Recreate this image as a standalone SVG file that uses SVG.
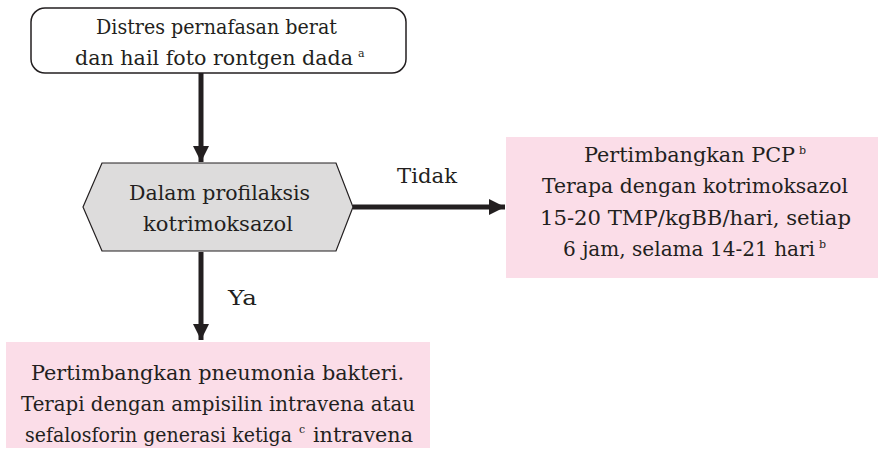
<svg xmlns="http://www.w3.org/2000/svg" width="881" height="449" viewBox="0 0 881 449">
  <style>
    text { font-family: 'DejaVu Serif', 'Liberation Serif', serif; font-size: 20px; fill: #231f20; }
    .sup { font-size: 11px; }
    .edge { stroke: #231f20; stroke-width: 5; fill: none; }
    .start { fill: #ffffff; stroke: #231f20; stroke-width: 1.5; }
    .decision { fill: #dddcdc; stroke: #231f20; stroke-width: 1.2; }
    .action { fill: #fbdde8; stroke: none; }
  </style>
  <defs>
    <marker id="arrow" viewBox="0 0 10 10" refX="10" refY="5" markerWidth="3.2" markerHeight="3.2" orient="auto" markerUnits="strokeWidth">
      <path d="M0,0 L10,5 L0,10 z" fill="#231f20"/>
    </marker>
  </defs>

  <!-- connectors and branch labels -->
  <g id="connectors">
    <line class="edge" x1="201" y1="73" x2="201" y2="162" marker-end="url(#arrow)"/>
    <line class="edge" x1="353" y1="207" x2="505" y2="207" marker-end="url(#arrow)"/>
    <line class="edge" x1="201" y1="252" x2="201" y2="340" marker-end="url(#arrow)"/>
    <text x="397" y="183" textLength="60" lengthAdjust="spacingAndGlyphs">Tidak</text>
    <text x="228" y="305" textLength="29" lengthAdjust="spacingAndGlyphs">Ya</text>
  </g>

  <!-- start: respiratory distress -->
  <g id="node-start">
    <rect class="start" x="31" y="8" width="375" height="65" rx="14" ry="14"/>
    <text x="96" y="34" textLength="241" lengthAdjust="spacingAndGlyphs">Distres pernafasan berat</text>
    <text x="75" y="65" textLength="278" lengthAdjust="spacingAndGlyphs">dan hail foto rontgen dada</text>
    <text class="sup" x="358" y="57">a</text>
  </g>

  <!-- decision: on cotrimoxazole prophylaxis -->
  <g id="node-decision">
    <polygon class="decision" points="102,163 336,163 353,207 336,251 102,251 83,207"/>
    <text x="129" y="200" textLength="181" lengthAdjust="spacingAndGlyphs">Dalam profilaksis</text>
    <text x="143" y="231" textLength="150" lengthAdjust="spacingAndGlyphs">kotrimoksazol</text>
  </g>

  <!-- outcome: consider PCP -->
  <g id="node-pcp">
    <rect class="action" x="506" y="137" width="372" height="141"/>
    <text x="584" y="162" textLength="211" lengthAdjust="spacingAndGlyphs">Pertimbangkan PCP</text>
    <text class="sup" x="799" y="154">b</text>
    <text x="542" y="193" textLength="306" lengthAdjust="spacingAndGlyphs">Terapa dengan kotrimoksazol</text>
    <text x="540" y="225" textLength="311" lengthAdjust="spacingAndGlyphs">15-20 TMP/kgBB/hari, setiap</text>
    <text x="563" y="256" textLength="252" lengthAdjust="spacingAndGlyphs">6 jam, selama 14-21 hari</text>
    <text class="sup" x="819" y="248">b</text>
  </g>

  <!-- outcome: consider bacterial pneumonia -->
  <g id="node-bacterial">
    <rect class="action" x="6" y="342" width="424" height="106"/>
    <text x="31" y="380" textLength="373" lengthAdjust="spacingAndGlyphs">Pertimbangkan pneumonia bakteri.</text>
    <text x="21" y="411" textLength="394" lengthAdjust="spacingAndGlyphs">Terapi dengan ampisilin intravena atau</text>
    <text x="25" y="442" textLength="267" lengthAdjust="spacingAndGlyphs">sefalosforin generasi ketiga</text>
    <text class="sup" x="299" y="433">c</text>
    <text x="313" y="442" textLength="100" lengthAdjust="spacingAndGlyphs">intravena</text>
  </g>
</svg>
